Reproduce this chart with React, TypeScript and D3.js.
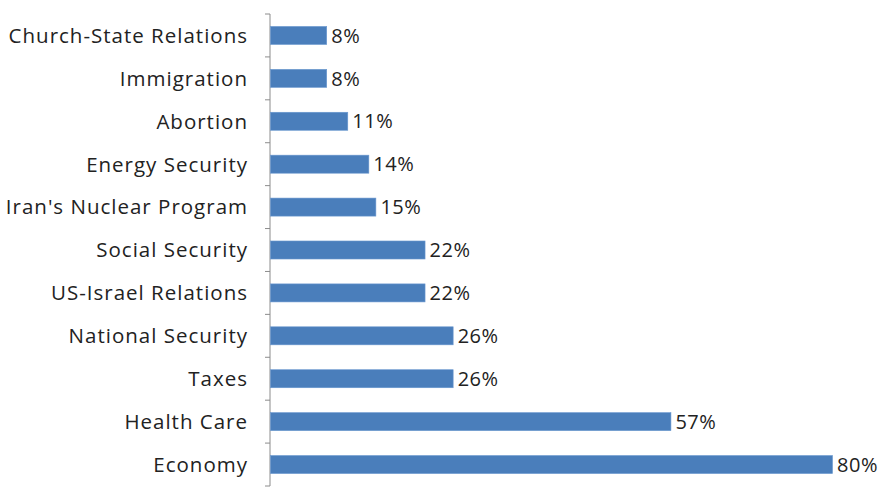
import React from "react";
import * as d3 from "d3";

const categories = [
  "Church-State Relations",
  "Immigration",
  "Abortion",
  "Energy Security",
  "Iran's Nuclear Program",
  "Social Security",
  "US-Israel Relations",
  "National Security",
  "Taxes",
  "Health Care",
  "Economy",
];
const values = [8, 8, 11, 14, 15, 22, 22, 26, 26, 57, 80];

const W = 884;
const H = 487;
const axisX = 270;
const top = 14;
const bottom = 486;
const FONT = "'Open Sans', Lato, sans-serif";

export default function App() {
  const x = d3.scaleLinear().domain([0, 80]).range([axisX, 832]);
  const y = d3.scaleBand<string>().domain(categories).range([top, bottom]).paddingInner(0.58).paddingOuter(0.29);
  const bandStep = (bottom - top) / categories.length;
  const tickYs = d3.range(categories.length + 1).map((i) => top + i * bandStep);

  return (
    <svg width={W} height={H} style={{ position: "absolute", left: 0, top: 0, background: "#fff" }}>
      <line x1={axisX} x2={axisX} y1={top} y2={bottom} stroke="#8c8c8c" strokeWidth={1} />
      {tickYs.map((ty, i) => (
        <line key={i} x1={axisX - 5} x2={axisX} y1={ty} y2={ty} stroke="#8c8c8c" strokeWidth={1} />
      ))}
      {categories.map((c, i) => {
        const by = y(c)!;
        const cy = by + y.bandwidth() / 2;
        return (
          <g key={c}>
            <rect x={axisX + 0.5} y={by} width={x(values[i]) - axisX} height={y.bandwidth()} fill="#4A7EBB" stroke="#6a98cf" strokeWidth={0.6} />
            <text x={248} y={cy} dy="0.36em" textAnchor="end" fontFamily={FONT} fontSize={20.5} letterSpacing={1.0} fill="#222">
              {c}
            </text>
            <text x={x(values[i]) + 5} y={cy} dy="0.36em" textAnchor="start" fontFamily={FONT} fontSize={20} letterSpacing={0.5} fill="#222">
              {values[i]}%
            </text>
          </g>
        );
      })}
    </svg>
  );
}
